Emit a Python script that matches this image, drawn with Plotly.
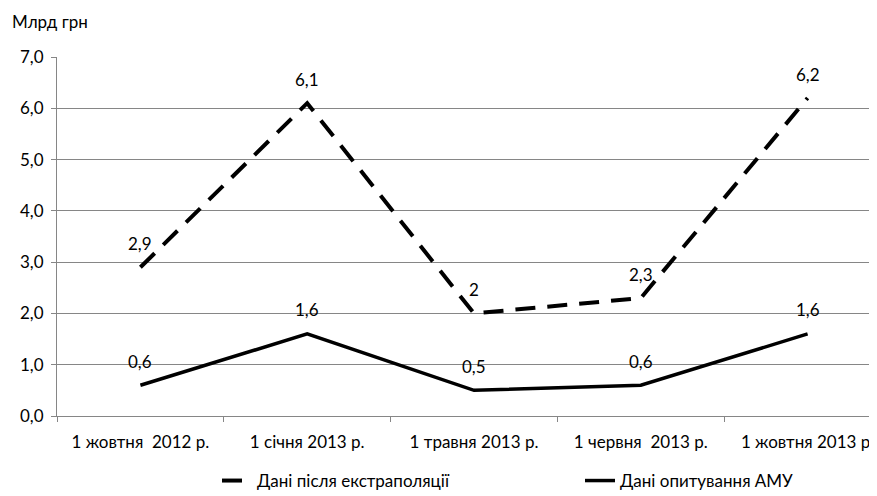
import plotly.graph_objects as go

categories = ["1 жовтня  2012 р.", "1 січня 2013 р.", "1 травня 2013 р.", "1 червня  2013 р.", "1 жовтня 2013 р."]
extrapolated = [2.9, 6.1, 2.0, 2.3, 6.2]
extrapolated_labels = ["2,9", "6,1", "2", "2,3", "6,2"]
survey = [0.6, 1.6, 0.5, 0.6, 1.6]
survey_labels = ["0,6", "1,6", "0,5", "0,6", "1,6"]
name_extrap = "Дані після екстраполяції"
name_survey = "Дані опитування АМУ"
y_title = "Млрд грн"

FONT = "Lato"
FS = 17
# page is rendered with an 8px body margin, compensate for it
OFF = 8
W, H = 877 - OFF, 496 - OFF
PLOT_L, PLOT_R, PLOT_T, PLOT_B = 57, 877, 57, 416   # page pixel positions of the plot area
ML, MR, MT, MB = PLOT_L - OFF, 0, PLOT_T - OFF, 496 - PLOT_B
PW = PLOT_R - PLOT_L
PH = PLOT_B - PLOT_T

def px_x(x):
    return (x - PLOT_L) / PW

def px_y(y):
    return (PLOT_B - y) / PH

fig = go.Figure()
fig.add_trace(go.Scatter(
    x=categories, y=extrapolated, mode="lines", name=name_extrap,
    line=dict(color="black", width=4, dash="20px,12px"),
))
fig.add_trace(go.Scatter(
    x=categories, y=survey, mode="lines", name=name_survey,
    line=dict(color="black", width=3.5),
))

annotations = []
for c, v, t in zip(categories, extrapolated, extrapolated_labels):
    annotations.append(dict(x=c, y=v, text=t, showarrow=False, yshift=24,
                            font=dict(family=FONT, size=FS, color="black")))
for c, v, t in zip(categories, survey, survey_labels):
    annotations.append(dict(x=c, y=v, text=t, showarrow=False, yshift=24,
                            font=dict(family=FONT, size=FS, color="black")))
annotations.append(dict(xref="paper", yref="paper", x=px_x(10), y=px_y(22),
                        xanchor="left", yanchor="middle", text=y_title, showarrow=False,
                        font=dict(family=FONT, size=FS, color="black")))

fig.update_layout(
    width=W, height=H,
    margin=dict(l=ML, r=MR, t=MT, b=MB, autoexpand=False),
    paper_bgcolor="white", plot_bgcolor="white",
    separators=", ",
    font=dict(family=FONT, size=FS, color="black"),
    showlegend=True,
    legend=dict(orientation="h", x=px_x(217), y=px_y(481),
                xanchor="left", yanchor="middle", entrywidth=318,
                font=dict(family=FONT, size=FS, color="black")),
    annotations=annotations,
    xaxis=dict(type="category", range=[-0.5, 4.416], showgrid=False,
               showline=True, linecolor="#868686", linewidth=1,
               ticks="outside", tickson="boundaries", ticklen=5, tickcolor="#868686",
               ticklabelstandoff=11,
               tickfont=dict(family=FONT, size=FS, color="black")),
    yaxis=dict(range=[0, 7], dtick=1, tickformat=".1f", showgrid=True,
               gridcolor="#868686", gridwidth=1, zeroline=False,
               showline=True, linecolor="#868686", linewidth=1,
               ticks="outside", ticklen=5, tickcolor="#868686",
               ticklabelstandoff=4,
               tickfont=dict(family=FONT, size=FS, color="black")),
)

fig.write_html("out.html")
